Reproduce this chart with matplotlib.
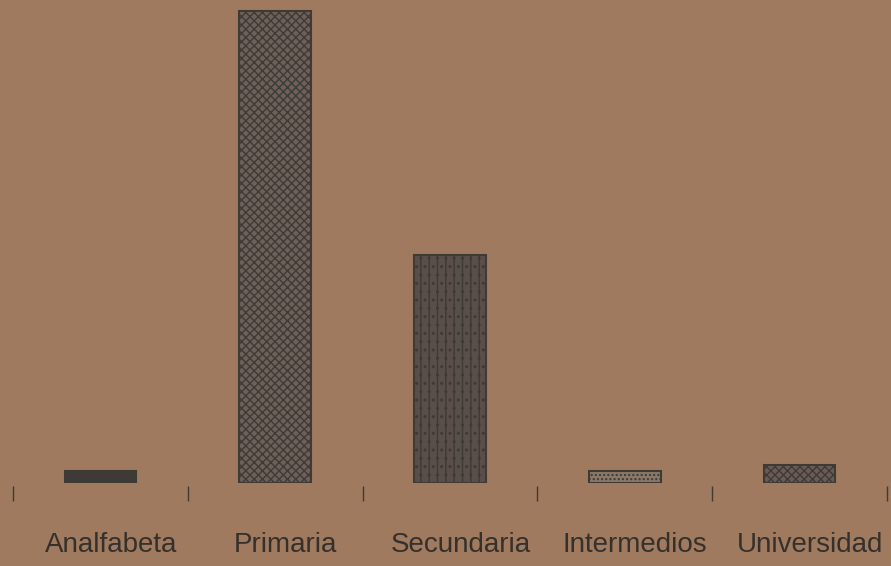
import matplotlib
matplotlib.use("Agg")
import matplotlib.pyplot as plt
import numpy as np

categories = ["Analfabeta", "Primaria", "Secundaria", "Intermedios", "Universidad"]
values = [1.5, 59.0, 28.5, 1.5, 2.3]

bg = "#a07a5e"
dark = "#3e3a36"
faces = ["#3f3a37", "#6d6058", "#5a4f48", "#8a7868", "#6a5c54"]
hatches = [None, "xxxx", "||..", "....", "xxxx"]

plt.rcParams['hatch.linewidth'] = 1.0
fig = plt.figure(figsize=(8.91, 5.66), dpi=100, facecolor=bg)
ax = fig.add_axes([13/891, 83/566, 874/891, 480/566])
ax.set_facecolor(bg)

x = np.arange(len(categories))
bars = ax.bar(x, values, width=0.41, color=faces, edgecolor=dark, linewidth=1.5)
for b, h in zip(bars, hatches):
    if h:
        b.set_hatch(h)

ax.set_xlim(-0.5, len(categories) - 0.5)
ax.set_ylim(0, 60)
for s in ax.spines.values():
    s.set_visible(False)
ax.set_yticks([])
ax.set_xticks(np.arange(len(categories) + 1) - 0.5)
ax.set_xticklabels([])
ax.tick_params(axis='x', which='major', direction='out', length=11, width=1, color=dark, pad=0)
ax.spines['bottom'].set_position(('outward', 2))
ax.set_xticks(x + 0.06, minor=True)
ax.set_xticklabels(categories, minor=True, fontsize=20,
                   family=['Liberation Sans', 'DejaVu Sans'], color="#35302c")
ax.tick_params(axis='x', which='minor', length=0, pad=33)

fig.savefig("out.png", dpi=100, facecolor=bg)
